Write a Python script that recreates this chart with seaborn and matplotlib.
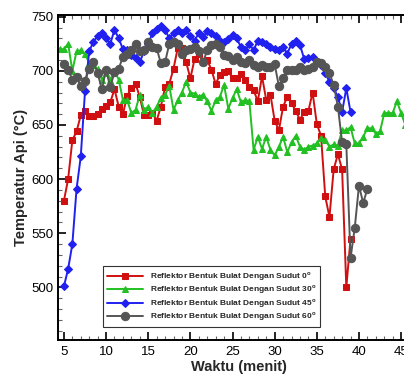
import numpy as np
import pandas as pd
import matplotlib
matplotlib.use('Agg')
import matplotlib.pyplot as plt
from matplotlib.ticker import MultipleLocator
import seaborn as sns

# red: sudut 0
x_red = [5.0 + 0.5 * i for i in range(69)]
y_red = [580, 600, 636, 644, 659, 663, 658, 658, 660, 665,
         668, 671, 683, 667, 660, 677, 684, 688, 676, 659,
         659, 661, 654, 667, 685, 688, 702, 721, 721, 708,
         693, 711, 716, 708, 710, 701, 688, 696, 699, 700,
         693, 693, 697, 692, 685, 682, 672, 695, 673, 678,
         654, 645, 667, 676, 670, 663, 655, 662, 663, 680,
         651, 640, 584, 565, 609, 623, 609, 500, 545]

# green: sudut 30
x_green = [4.5 + 0.5 * i for i in range(83)]
y_green = [720, 720, 725, 700, 718, 719, 716, 707, 705, 702,
           692, 698, 692, 700, 692, 673, 673, 661, 664, 678,
           664, 667, 661, 667, 675, 678, 686, 664, 673, 680,
           690, 680, 679, 676, 678, 672, 663, 673, 676, 687,
           665, 675, 683, 671, 673, 672, 627, 639, 628, 639,
           627, 622, 630, 639, 625, 634, 640, 630, 627, 630,
           631, 633, 638, 636, 630, 632, 631, 645, 645, 648,
           633, 633, 639, 647, 647, 642, 644, 661, 661, 661,
           672, 661, 650]

# blue: sudut 45
x_blue = [5.0 + 0.5 * i for i in range(69)]
y_blue = [501, 517, 540, 591, 621, 681, 718, 727, 732, 735,
          730, 725, 738, 730, 720, 719, 715, 712, 708, 718,
          725, 735, 739, 741, 738, 730, 735, 738, 735, 738,
          732, 728, 735, 731, 737, 735, 732, 728, 727, 729,
          733, 730, 722, 719, 725, 719, 728, 727, 725, 722,
          720, 719, 722, 716, 725, 728, 724, 711, 712, 713,
          708, 705, 698, 690, 684, 676, 662, 684, 662]

# gray: sudut 60
x_gray = [5.0 + 0.5 * i for i in range(73)]
y_gray = [706, 701, 692, 694, 686, 691, 702, 708, 698, 683,
          701, 685, 699, 702, 713, 716, 719, 725, 718, 719,
          727, 722, 721, 707, 708, 725, 727, 725, 716, 719,
          720, 722, 718, 708, 719, 724, 725, 722, 715, 714,
          710, 713, 708, 707, 710, 705, 704, 705, 704, 704,
          706, 686, 693, 701, 701, 701, 704, 701, 702, 704,
          708, 707, 704, 698, 687, 667, 634, 632, 527, 555,
          594, 578, 591]

labels = [r'Reflektor Bentuk Bulat Dengan Sudut 0$^\mathbf{o}$',
          r'Reflektor Bentuk Bulat Dengan Sudut 30$^\mathbf{o}$',
          r'Reflektor Bentuk Bulat Dengan Sudut 45$^\mathbf{o}$',
          r'Reflektor Bentuk Bulat Dengan Sudut 60$^\mathbf{o}$']

sns.set_style('ticks')
plt.rcParams['font.family'] = ['Liberation Sans', 'DejaVu Sans']
plt.rcParams['mathtext.fontset'] = 'custom'
plt.rcParams['mathtext.rm'] = 'Liberation Sans'
plt.rcParams['mathtext.bf'] = 'Liberation Sans:bold'

fig = plt.figure(figsize=(4.04, 3.79), dpi=100)
ax = fig.add_axes([0.1436, 0.1029, 0.896, 0.8575])

series = [(x_red, y_red, '#d01010', 's', 4.5),
          (x_green, y_green, '#22c022', '^', 5),
          (x_blue, y_blue, '#2020f0', 'D', 4.5),
          (x_gray, y_gray, '#555555', 'o', 6)]

for (xs, ys, c, m, ms), lab in zip(series, labels):
    sns.lineplot(x=xs, y=ys, ax=ax, color=c, marker=m, markersize=ms,
                 markeredgecolor=c, linewidth=1.4, label=lab)

ax.set_xlim(4.3, 47.24)
ax.set_ylim(451.4, 751.6)
ax.xaxis.set_major_locator(MultipleLocator(5))
ax.xaxis.set_minor_locator(MultipleLocator(1))
ax.yaxis.set_major_locator(MultipleLocator(50))
ax.yaxis.set_minor_locator(MultipleLocator(10))
ax.tick_params(which='both', direction='in', top=True, right=True,
               labelsize=9.5, colors='black')
ax.tick_params(which='major', length=6, width=1.2)
ax.tick_params(which='minor', length=3, width=0.8, color='#666666')
ax.tick_params(axis='x', pad=4)
for s in ax.spines.values():
    s.set_linewidth(1.4)
    s.set_color('black')

ax.set_xlabel('Waktu (menit)', fontsize=10.5, fontweight='bold', labelpad=2)
ax.set_ylabel('Temperatur Api (°C)', fontsize=10.5, fontweight='bold', labelpad=2)

leg = ax.legend(loc='lower left', bbox_to_anchor=(0.124, 0.04), borderaxespad=0,
                prop={'weight': 'bold', 'size': 6}, frameon=True,
                fancybox=False, handlelength=4.4, handletextpad=0.8,
                labelspacing=0.1, borderpad=0.45, framealpha=1)
leg.get_frame().set_edgecolor('#333333')
leg.get_frame().set_linewidth(0.8)

fig.savefig('out.png', dpi=100)
